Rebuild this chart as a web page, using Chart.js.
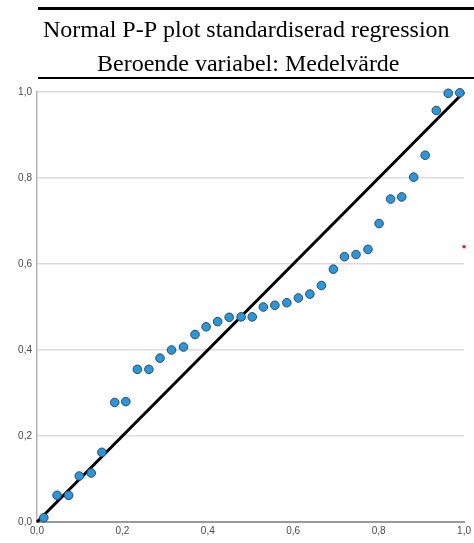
<!DOCTYPE html>
<html>
<head>
<meta charset="utf-8">
<script src="https://cdn.jsdelivr.net/npm/chart.js@4.4.1/dist/chart.umd.min.js"></script>
<style>
  html, body { margin: 0; padding: 0; background: #fff; }
  #wrap { width: 474px; height: 543px; position: relative; }
</style>
</head>
<body>
<div id="wrap"><canvas id="chart"></canvas></div>
<script>
'use strict';

var titleLines = ['Normal P-P plot standardiserad regression', 'Beroende variabel: Medelvärde'];

// observed cumulative probability (x) and expected cumulative probability (y)
var observedProb = [0.016, 0.047, 0.074, 0.099, 0.127, 0.152, 0.182, 0.208, 0.235, 0.262,
    0.288, 0.315, 0.343, 0.370, 0.396, 0.423, 0.450, 0.478, 0.504, 0.530,
    0.557, 0.585, 0.612, 0.639, 0.666, 0.694, 0.720, 0.747, 0.775, 0.801,
    0.828, 0.854, 0.882, 0.909, 0.935, 0.963, 0.990];
var expectedProb = [0.010, 0.062, 0.062, 0.107, 0.114, 0.162, 0.278, 0.280, 0.355, 0.355,
    0.381, 0.400, 0.407, 0.436, 0.454, 0.466, 0.476, 0.477, 0.477, 0.500,
    0.504, 0.510, 0.521, 0.530, 0.550, 0.588, 0.617, 0.622, 0.634, 0.694,
    0.751, 0.756, 0.802, 0.853, 0.957, 0.997, 0.998];
var refLine = [0, 1];
var strayPoint = [1.0, 0.64];
var tickValues = [0, 0.2, 0.4, 0.6, 0.8, 1.0];

var points = [];
for (let i = 0; i < observedProb.length; i++) {
    points.push({ x: observedProb[i], y: expectedProb[i] });
}

var titlePlugin = {
    id: 'ppTitle',
    afterDraw: function (chart) {
        var ctx = chart.ctx;
        ctx.save();
        ctx.fillStyle = '#000';
        ctx.fillRect(38, 7, 436, 3);
        ctx.fillRect(38, 77, 436, 2);
        ctx.font = '24px "Liberation Serif", "Times New Roman", serif';
        ctx.textAlign = 'left';
        ctx.textBaseline = 'alphabetic';
        ctx.fillText(titleLines[0], 43, 37, 424);
        ctx.fillText(titleLines[1], 97, 71, 313);
        ctx.restore();
    }
};

function fmt(v) {
    return Number(v).toFixed(1).replace('.', ',');
}

var chart = new Chart(document.getElementById('chart').getContext('2d'), {
    type: 'scatter',
    data: {
        datasets: [
            {
                label: 'P-P',
                data: points,
                pointRadius: 4.3,
                pointBackgroundColor: '#2798de',
                pointBorderColor: '#33475c',
                pointBorderWidth: 1,
                clip: false,
                order: 1
            },
            {
                label: 'ref',
                type: 'line',
                data: [{ x: refLine[0], y: refLine[0] }, { x: refLine[1], y: refLine[1] }],
                borderColor: '#000',
                borderWidth: 3,
                pointRadius: 0,
                clip: false,
                order: 2
            },
            {
                label: 'stray',
                data: [{ x: strayPoint[0], y: strayPoint[1] }],
                pointRadius: 1.8,
                pointBorderWidth: 0,
                pointBackgroundColor: '#e8202a',
                clip: false,
                order: 0
            }
        ]
    },
    options: {
        responsive: true,
        maintainAspectRatio: false,
        animation: false,
        layout: { padding: { top: 92, right: 8, left: 0, bottom: 0 } },
        plugins: {
            legend: { display: false },
            tooltip: { enabled: false },
            title: { display: false }
        },
        scales: {
            x: {
                type: 'linear',
                min: 0,
                max: 1,
                afterBuildTicks: function (scale) {
                    scale.ticks = tickValues.map(function (v) { return { value: v }; });
                },
                afterFit: function (scale) { scale.height = 21; },
                grid: { display: false, drawTicks: false },
                border: { display: true, color: '#9a9a9a', width: 2 },
                ticks: {
                    padding: 3,
                    maxRotation: 0,
                    color: '#4a4a4a',
                    font: { family: 'Liberation Sans', size: 10 },
                    callback: function (v) { return fmt(v); }
                }
            },
            y: {
                type: 'linear',
                min: 0,
                max: 1,
                afterBuildTicks: function (scale) {
                    scale.ticks = tickValues.map(function (v) { return { value: v }; });
                },
                afterFit: function (scale) { scale.width = 37; },
                grid: { color: '#dcdcdc', lineWidth: 1.5, drawTicks: false },
                border: { display: true, color: '#b4b4b4', width: 1.5 },
                ticks: {
                    padding: 5,
                    color: '#4a4a4a',
                    font: { family: 'Liberation Sans', size: 10 },
                    callback: function (v) { return fmt(v); }
                }
            }
        }
    },
    plugins: [titlePlugin]
});
</script>
</body>
</html>
